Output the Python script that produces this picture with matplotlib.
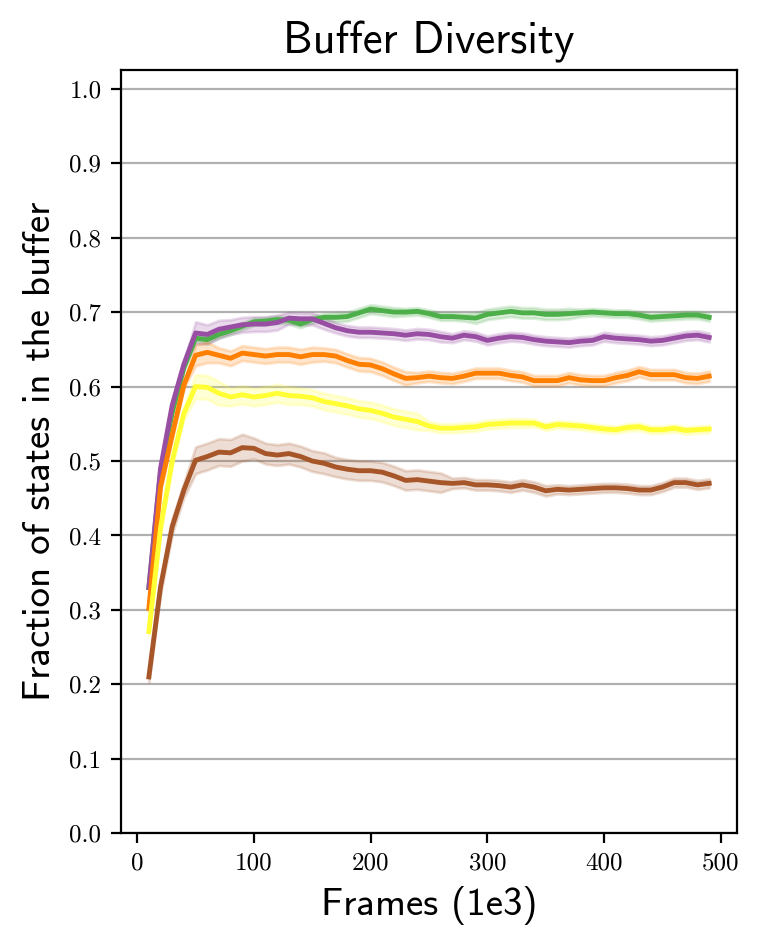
import numpy as np
import matplotlib
matplotlib.use("Agg")
import matplotlib.pyplot as plt

plt.rcParams['font.family'] = 'serif'
plt.rcParams['font.serif'] = ['cmr10']
plt.rcParams['mathtext.fontset'] = 'cm'
plt.rcParams['axes.unicode_minus'] = False

# frames (in thousands)
frames = np.arange(10, 500, 10)

# mean fraction of states in the buffer, one list per run
green = [0.330, 0.485, 0.565, 0.625, 0.665, 0.663, 0.670, 0.675, 0.681, 0.687,
         0.688, 0.690, 0.689, 0.684, 0.690, 0.693, 0.693, 0.694, 0.699, 0.704,
         0.702, 0.700, 0.700, 0.701, 0.698, 0.694, 0.694, 0.693, 0.692, 0.697,
         0.699, 0.701, 0.699, 0.699, 0.697, 0.697, 0.698, 0.699, 0.700, 0.699,
         0.698, 0.698, 0.696, 0.693, 0.694, 0.695, 0.696, 0.696, 0.693]
purple = [0.330, 0.490, 0.575, 0.630, 0.672, 0.670, 0.677, 0.680, 0.683, 0.684,
          0.684, 0.686, 0.692, 0.691, 0.691, 0.685, 0.679, 0.675, 0.673, 0.673,
          0.672, 0.671, 0.669, 0.671, 0.670, 0.667, 0.665, 0.669, 0.667, 0.662,
          0.665, 0.667, 0.666, 0.663, 0.661, 0.660, 0.659, 0.661, 0.662, 0.667,
          0.665, 0.664, 0.663, 0.661, 0.662, 0.665, 0.668, 0.669, 0.666]
orange = [0.302, 0.465, 0.535, 0.602, 0.642, 0.646, 0.642, 0.638, 0.645, 0.643,
          0.641, 0.643, 0.643, 0.640, 0.643, 0.643, 0.641, 0.635, 0.630, 0.629,
          0.624, 0.617, 0.611, 0.612, 0.614, 0.612, 0.611, 0.614, 0.618, 0.618,
          0.618, 0.615, 0.613, 0.608, 0.608, 0.608, 0.612, 0.609, 0.608, 0.608,
          0.612, 0.615, 0.620, 0.616, 0.616, 0.616, 0.612, 0.611, 0.614]
yellow = [0.271, 0.410, 0.500, 0.564, 0.600, 0.599, 0.591, 0.586, 0.589, 0.586,
          0.588, 0.591, 0.588, 0.587, 0.585, 0.580, 0.577, 0.574, 0.570, 0.568,
          0.564, 0.559, 0.556, 0.553, 0.547, 0.544, 0.544, 0.545, 0.546, 0.549,
          0.550, 0.551, 0.551, 0.551, 0.546, 0.549, 0.548, 0.547, 0.545, 0.543,
          0.542, 0.545, 0.546, 0.542, 0.542, 0.544, 0.541, 0.542, 0.543]
brown = [0.210, 0.331, 0.412, 0.461, 0.501, 0.506, 0.512, 0.511, 0.518, 0.517,
         0.510, 0.508, 0.510, 0.506, 0.500, 0.497, 0.492, 0.489, 0.487, 0.487,
         0.485, 0.480, 0.474, 0.475, 0.473, 0.471, 0.470, 0.471, 0.468, 0.468,
         0.467, 0.465, 0.468, 0.465, 0.460, 0.462, 0.461, 0.462, 0.463, 0.464,
         0.464, 0.463, 0.461, 0.461, 0.465, 0.471, 0.471, 0.468, 0.470]

# half width of the shaded band
green_err = [0.003, 0.003, 0.003, 0.003, 0.005, 0.005, 0.005, 0.005, 0.005, 0.005,
             0.005, 0.005, 0.005, 0.005, 0.005, 0.005, 0.006, 0.006, 0.006, 0.006,
             0.006, 0.006, 0.005, 0.005, 0.005, 0.005, 0.005, 0.005, 0.007, 0.007,
             0.007, 0.007, 0.007, 0.007, 0.007, 0.007, 0.007, 0.005, 0.005, 0.005,
             0.005, 0.005, 0.005, 0.005, 0.005, 0.005, 0.005, 0.005, 0.005]
purple_err = [0.004, 0.004, 0.004, 0.004, 0.015, 0.013, 0.012, 0.010, 0.010, 0.010,
              0.010, 0.010, 0.008, 0.008, 0.008, 0.008, 0.007, 0.007, 0.007, 0.007,
              0.007, 0.007, 0.007, 0.007, 0.007, 0.007, 0.006, 0.006, 0.006, 0.006,
              0.006, 0.006, 0.006, 0.006, 0.006, 0.006, 0.006, 0.006, 0.006, 0.006,
              0.006, 0.006, 0.006, 0.006, 0.006, 0.006, 0.006, 0.006, 0.006]
orange_err = [0.005, 0.005, 0.005, 0.005, 0.014, 0.014, 0.010, 0.010, 0.010, 0.010,
              0.010, 0.010, 0.010, 0.010, 0.010, 0.009, 0.009, 0.009, 0.009, 0.009,
              0.009, 0.009, 0.009, 0.007, 0.007, 0.007, 0.007, 0.007, 0.007, 0.007,
              0.007, 0.007, 0.007, 0.007, 0.007, 0.007, 0.007, 0.007, 0.007, 0.007,
              0.007, 0.007, 0.007, 0.007, 0.007, 0.007, 0.007, 0.007, 0.007]
yellow_err = [0.005, 0.008, 0.008, 0.008, 0.016, 0.016, 0.016, 0.012, 0.012, 0.012,
              0.012, 0.012, 0.012, 0.011, 0.011, 0.011, 0.011, 0.011, 0.011, 0.011,
              0.011, 0.011, 0.011, 0.011, 0.006, 0.006, 0.006, 0.006, 0.006, 0.006,
              0.006, 0.006, 0.006, 0.005, 0.005, 0.005, 0.005, 0.005, 0.005, 0.005,
              0.005, 0.005, 0.005, 0.005, 0.005, 0.005, 0.005, 0.005, 0.005]
brown_err = [0.007, 0.010, 0.010, 0.010, 0.018, 0.018, 0.018, 0.018, 0.018, 0.014,
             0.014, 0.014, 0.014, 0.014, 0.014, 0.014, 0.013, 0.013, 0.013, 0.013,
             0.013, 0.013, 0.013, 0.013, 0.013, 0.013, 0.007, 0.007, 0.007, 0.007,
             0.007, 0.007, 0.007, 0.007, 0.007, 0.006, 0.006, 0.006, 0.006, 0.006,
             0.006, 0.006, 0.006, 0.006, 0.006, 0.006, 0.006, 0.006, 0.006]

series = [
    (green, green_err, '#4daf4a'),
    (purple, purple_err, '#984ea3'),
    (orange, orange_err, '#ff7f00'),
    (yellow, yellow_err, '#ffff33'),
    (brown, brown_err, '#a65628'),
]

fig, ax = plt.subplots(figsize=(3.8, 4.74), dpi=200)
fig.subplots_adjust(left=0.159, right=0.970, top=0.926, bottom=0.121)

for mean, err, color in series:
    mean = np.array(mean)
    err = np.array(err)
    ax.fill_between(frames, mean - err, mean + err, color=color, alpha=0.2)
    ax.plot(frames, mean, color=color, linewidth=1.75)

ax.set_ylim(0, 1.025)
ax.set_yticks(np.arange(0, 1.01, 0.1))
ax.set_xticks([0, 100, 200, 300, 400, 500])
ax.yaxis.grid(True, color='#b0b0b0', linewidth=0.8)
ax.set_axisbelow(True)
ax.tick_params(labelsize=9)

ax.set_title("Buffer Diversity", fontsize=16, family='cmss10')
ax.set_xlabel("Frames (1e3)", fontsize=14, family='cmss10')
ax.set_ylabel("Fraction of states in the buffer", fontsize=14, family='cmss10')

fig.savefig("out.png", dpi=200)
